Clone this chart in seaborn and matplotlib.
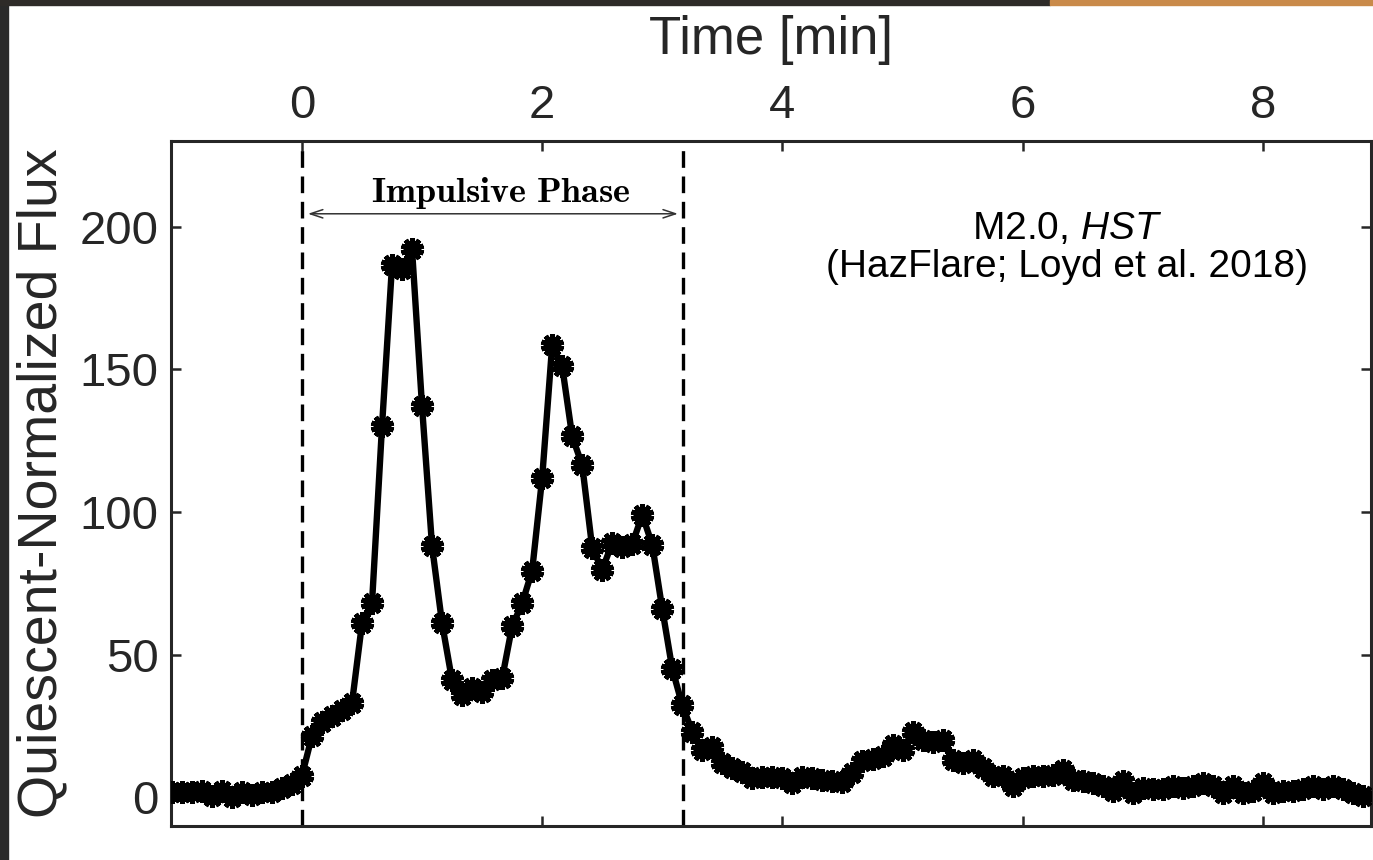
import numpy as np
import pandas as pd
import matplotlib
matplotlib.use("Agg")
import matplotlib.pyplot as plt
from matplotlib.patches import Rectangle
import seaborn as sns

# ---------------- data ----------------
cadence_s = 5.0            # HST sampling cadence (seconds)
first_index = -13          # first sample index relative to flare start
flux = [
    # pre-flare
    2.0, 1.8, 1.8, 2.4, 0.6, 2.4, 0.3, 2.0, 1.0, 1.8, 2.0, 3.2, 4.8,
    # impulsive phase
    7.6, 21.5, 26.5, 28.5, 30.5, 33.0, 61.0, 68.0, 130.0, 186.5, 185.0, 192.0,
    137.0, 88.0, 61.0, 41.0, 36.0, 38.5, 37.0, 41.0, 41.7, 60.0, 68.0, 79.5,
    112.0, 158.5, 151.0, 126.5, 116.4, 87.4, 79.8, 89.2, 87.7, 88.8, 99.0, 88.5,
    66.0, 45.0, 32.3, 23.0, 16.5, 17.8, 12.0, 10.2, 9.0, 6.8, 7.3, 7.3,
    # gradual phase
    6.8, 5.2, 7.0, 6.8, 6.2, 5.6, 5.3, 8.6, 12.6, 13.6, 14.4, 18.5,
    16.6, 23.0, 20.2, 19.6, 20.2, 13.2, 12.1, 13.2, 10.3, 7.4, 7.4, 3.9,
    6.8, 7.4, 7.4, 8.0, 9.7, 6.2, 5.6, 5.1, 3.9, 2.2, 5.6, 1.6,
    3.3, 2.8, 2.8, 3.9, 3.3, 3.9, 5.1, 3.9, 1.6, 3.9,
    1.6, 2.2, 5.1, 1.6, 2.2, 2.2, 2.8, 3.9, 2.8, 3.9, 2.8, 1.6, 0.5,
]
time_min = (np.arange(len(flux)) + first_index) * cadence_s / 60.0

impulsive_start = 0.0
impulsive_end = 3.17
xticks = [0, 2, 4, 6, 8]
yticks = [0, 50, 100, 150, 200]
xlabel = "Time [min]"
ylabel = "Quiescent-Normalized Flux"
phase_label = "Impulsive Phase"
note_line1 = "M2.0, "
note_italic = "HST"
note_line2 = "(HazFlare; Loyd et al. 2018)"

df = pd.DataFrame({"time": time_min, "flux": flux})

# ---------------- style ----------------
sns.set_style("white")
plt.rcParams["font.family"] = ["Liberation Sans", "DejaVu Sans"]
plt.rcParams["mathtext.fontset"] = "custom"
plt.rcParams["mathtext.rm"] = "Liberation Sans"
plt.rcParams["mathtext.it"] = "Liberation Sans:italic"
plt.rcParams["mathtext.bf"] = "Liberation Sans:bold"

W, H = 1373, 860
fig = plt.figure(figsize=(W / 100, H / 100), dpi=100)
fig.patch.set_facecolor("white")

# dark photographic border remnants
fig.patches.append(Rectangle((0, 0), 8 / W, 1, transform=fig.transFigure,
                             color="#2a2a2a", zorder=0))
fig.patches.append(Rectangle((0, 1 - 5 / H), 1050 / W, 5 / H, transform=fig.transFigure,
                             color="#2e2b28", zorder=0))
fig.patches.append(Rectangle((1050 / W, 1 - 5 / H), 1 - 1050 / W, 5 / H,
                             transform=fig.transFigure, color="#c98a4a", zorder=0))

ax = fig.add_axes([171 / W, (H - 826) / H, 1200 / W, (826 - 141) / H])
ax.set_facecolor("white")

ink = "#262626"

# dashed phase boundaries
for xv in (impulsive_start, impulsive_end):
    ax.axvline(xv, color="black", lw=2.4, linestyle=(0, (5, 2.6)), zorder=1)

sns.lineplot(data=df, x="time", y="flux", ax=ax, color="black", linewidth=4.6,
             marker=(10, 2, 0), markersize=16.5, markeredgewidth=3.5,
             markeredgecolor="black", markerfacecolor="black",
             errorbar=None, sort=False, zorder=3)

ax.set_xlim(-1.09, 8.9)
ax.set_ylim(-10, 230)
ax.set_xticks(xticks)
ax.set_yticks(yticks)

for sp in ax.spines.values():
    sp.set_visible(True)
    sp.set_color(ink)
    sp.set_linewidth(2.2)

ax.tick_params(axis="both", direction="in", length=7, width=1.8, color=ink,
               labelcolor=ink, labelsize=34)
ax.tick_params(axis="x", top=True, bottom=True, labeltop=True, labelbottom=False, pad=9)
ax.tick_params(axis="y", left=True, right=True, labelleft=True, labelright=False, pad=9)

ax.xaxis.set_label_position("top")
ax.set_xlabel(xlabel, fontsize=38, color=ink, labelpad=22)
ax.set_ylabel(ylabel, fontsize=40, color=ink, labelpad=8)

# impulsive phase annotation
ax.annotate("", xy=(0.05, 204.5), xytext=(impulsive_end - 0.04, 204.5),
            arrowprops=dict(arrowstyle="<->,head_length=0.9,head_width=0.3",
                            color="#333333", lw=1.1, shrinkA=0, shrinkB=0))
ax.text((impulsive_start + impulsive_end) / 2 + 0.07, 208.5,
        r"$\mathbf{" + phase_label.replace(" ", r"\ ") + "}$",
        math_fontfamily="cm", fontsize=26, ha="center", va="baseline", color="black")

ax.text(6.37, 195.5, note_line1 + r"$\mathit{" + note_italic + "}$",
        fontsize=28, ha="center", va="baseline", color="black")
ax.text(6.37, 182.3, note_line2, fontsize=28, ha="center", va="baseline", color="black")

fig.savefig("out.png", dpi=100, facecolor=fig.get_facecolor())
